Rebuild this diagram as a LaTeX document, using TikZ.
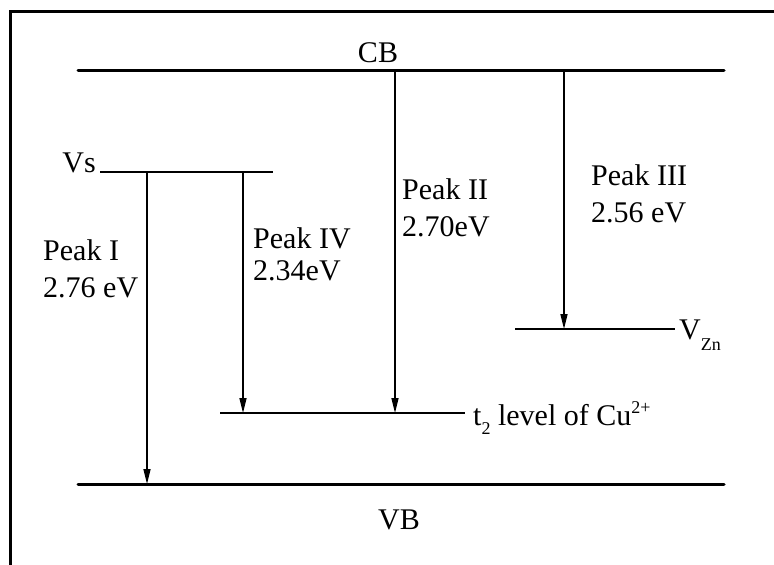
\documentclass[tikz,border=0pt]{standalone}
\usepackage{fontspec}
\setmainfont{Liberation Serif}
\usetikzlibrary{arrows.meta}
\newcommand\mysmall{\fontsize{18}{18}\selectfont}
\tikzset{
  frameline/.style={line width=3pt},
  lvl/.style={line width=3pt, line cap=round},
  sublvl/.style={line width=2.2pt},
  arr/.style={line width=1.6pt, -{Triangle[length=15pt,width=7pt]}},
  lbl/.style={inner sep=0pt, font=\fontsize{30}{36}\selectfont},
}
\begin{document}
\begin{tikzpicture}[x=1pt,y=-1pt]
\useasboundingbox (0,0) rectangle (774,565);
% frame
\coordinate (fbl) at (10,570);
\coordinate (ftl) at (10,11);
\coordinate (ftr) at (780,11);
\draw[frameline] (fbl) -- (ftl) -- (ftr);
% levels
\coordinate (cbL) at (78,70);  \coordinate (cbR) at (724,70);
\coordinate (vbL) at (78,484); \coordinate (vbR) at (724,484);
\coordinate (vsL) at (100,172); \coordinate (vsR) at (273,172);
\coordinate (t2L) at (220,413); \coordinate (t2R) at (465,413);
\coordinate (znL) at (515,329); \coordinate (znR) at (675,329);
\draw[lvl] (cbL) -- (cbR);
\draw[lvl] (vbL) -- (vbR);
\draw[sublvl] (vsL) -- (vsR);
\draw[sublvl] (t2L) -- (t2R);
\draw[sublvl] (znL) -- (znR);
% arrows
\coordinate (p1s) at (147,172); \coordinate (p1e) at (147,484);
\coordinate (p4s) at (243,172); \coordinate (p4e) at (243,413);
\coordinate (p2s) at (395,70);  \coordinate (p2e) at (395,413);
\coordinate (p3s) at (564,70);  \coordinate (p3e) at (564,329);
\draw[arr] (p1s) -- (p1e);
\draw[arr] (p4s) -- (p4e);
\draw[arr] (p2s) -- (p2e);
\draw[arr] (p3s) -- (p3e);
% labels
\node[lbl, anchor=base] (cb) at (378,62) {CB};
\node[lbl, anchor=base] (vb) at (399,529) {VB};
\node[lbl, anchor=base east] (vs) at (96,172) {Vs};
\node[lbl, anchor=base west] (p1a) at (43,260) {Peak I};
\node[lbl, anchor=base west] (p1b) at (43,297) {2.76 eV};
\node[lbl, anchor=base west] (p4a) at (253,248) {Peak IV};
\node[lbl, anchor=base west] (p4b) at (253,280) {2.34eV};
\node[lbl, anchor=base west] (p2a) at (402,199) {Peak II};
\node[lbl, anchor=base west] (p2b) at (402,236) {2.70eV};
\node[lbl, anchor=base west] (p3a) at (591,185) {Peak III};
\node[lbl, anchor=base west] (p3b) at (591,222) {2.56 eV};
\node[lbl, anchor=base west] (t2) at (473,425) {t\raisebox{-9pt}{\mysmall 2} level of Cu\raisebox{12pt}{\mysmall 2+}};
\node[lbl, anchor=base west] (vzn) at (679,339) {V\raisebox{-11pt}{\mysmall Zn}};
\end{tikzpicture}
\end{document}
